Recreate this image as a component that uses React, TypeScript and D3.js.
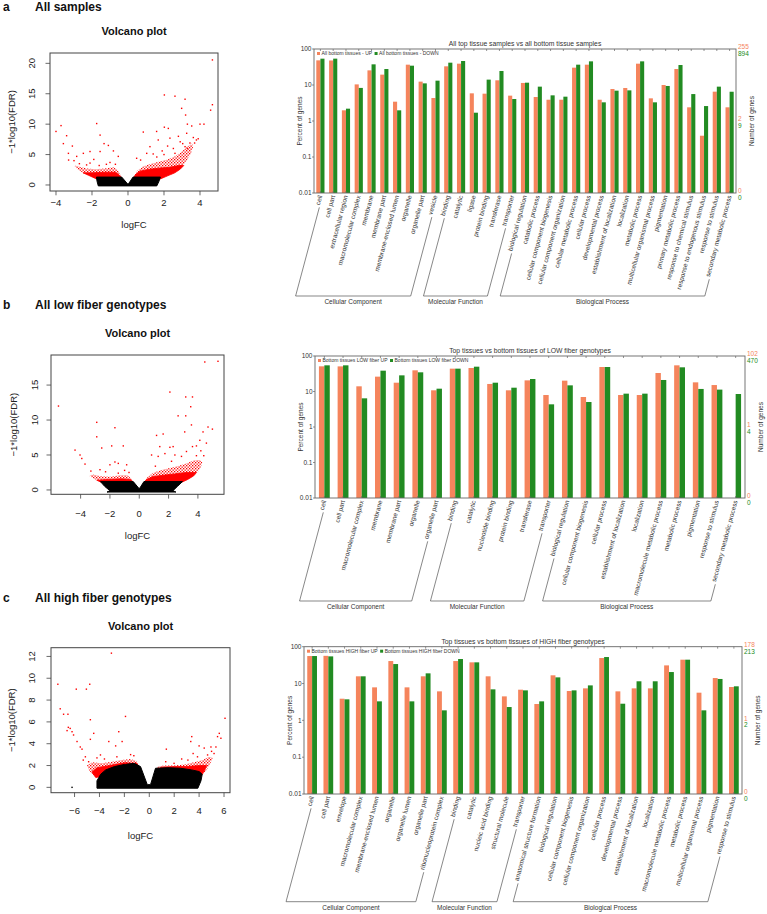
import React from "react";
import * as d3 from "d3";

const FONT = "'Liberation Sans', Arial, Helvetica, sans-serif";
const ORANGE = "#F5845C";
const GREEN = "#228B22";
const AXIS = "#666";
const TXT = "#333";

type P = [number, number];

// ---------------- bar chart data ----------------
const groupNames = ["Cellular Component", "Molecular Function", "Biological Process"];

const catsA = ["cell", "cell part", "extracellular region", "macromolecular complex", "membrane", "membrane part", "membrane-enclosed lumen", "organelle", "organelle part", "vesicle", "binding", "catalytic", "ligase", "protein binding", "transferase", "transporter", "biological regulation", "catabolic process", "cellular component biogenesis", "cellular component organization", "cellular metabolic process", "cellular process", "developmental process", "establishment of localization", "localization", "metabolic process", "multicellular organismal process", "pigmentation", "primary metabolic process", "response to chemical stimulus", "response to endogenous stimulus", "response to stimulus", "secondary metabolic process"];
const upA = [48.4, 48, 1.98, 10.4, 25.5, 19.4, 3.44, 36.7, 12.4, 4.35, 33, 39.1, 5.87, 5.74, 13.5, 5.06, 11.4, 4.64, 3.9, 3.9, 30.3, 36.7, 3.9, 7.74, 8.26, 39.1, 4.26, 10, 27.8, 2.4, 0.39, 6.53, 2.4];
const downA = [53.9, 54, 2.2, 8.3, 37.5, 27.8, 1.98, 34.4, 11.1, 13.2, 41.7, 46.4, 1.7, 14.1, 24.5, 4.08, 11.6, 9.0, 5.16, 4.74, 36.7, 45.4, 3.3, 6.96, 7.1, 45.4, 3.3, 9.4, 35.9, 5.6, 2.6, 9.0, 6.5];
const groupSizesA = [10, 6, 17];
const rightUpA = ["255", "2", "0"];
const rightDownA = ["894", "9", "0"];
const titleA = "All top tissue samples vs all bottom tissue samples";
const legendA = ["All bottom tissues - UP", "All bottom tissues - DOWN"];

const catsB = ["cell", "cell part", "macromolecular complex", "membrane", "membrane part", "organelle", "organelle part", "binding", "catalytic", "nucleotide binding", "protein binding", "transferase", "transporter", "biological regulation", "cellular component biogenesis", "cellular process", "establishment of localization", "localization", "macromolecule metabolic process", "metabolic process", "pigmentation", "response to stimulus", "secondary metabolic process"];
const upB = [51.2, 51, 14, 26.2, 17.7, 39.5, 10.8, 44, 45.9, 16.3, 10.8, 20.6, 7.96, 20.2, 7, 49, 7.96, 7.96, 33.2, 54.6, 18.1, 15.2, 0];
const downB = [54.6, 54.6, 6.42, 38.6, 28.5, 34.7, 12, 44, 50, 17.7, 12.8, 22.5, 4.35, 14.9, 5.06, 49, 8.7, 8.7, 21.1, 48, 11.8, 11.3, 8.5];
const groupSizesB = [7, 6, 10];
const rightUpB = ["102", "1", "0"];
const rightDownB = ["470", "4", "0"];
const titleB = "Top tissues vs bottom tissues of LOW fiber genotypes";
const legendB = ["Bottom tissues LOW fiber UP", "Bottom tissues LOW fiber DOWN"];

const catsC = ["cell", "cell part", "envelope", "macromolecular complex", "membrane-enclosed lumen", "organelle", "organelle lumen", "organelle part", "ribonucleoprotein complex", "binding", "catalytic", "nucleic acid binding", "structural molecule", "transporter", "anatomical structure formation", "biological regulation", "cellular component biogenesis", "cellular component organization", "cellular process", "developmental process", "establishment of localization", "localization", "macromolecule metabolic process", "metabolic process", "multicellular organismal process", "pigmentation", "response to stimulus"];
const upC = [55.8, 56.5, 3.87, 15.7, 7.87, 40.8, 7.87, 15.7, 6.13, 40.8, 37.6, 15.7, 4.48, 6.8, 2.78, 16.7, 6.26, 7.39, 49.2, 6.13, 7.39, 7.39, 31.1, 44.4, 5.64, 14.1, 8.04];
const downC = [55.8, 54.6, 3.72, 15.7, 3.28, 33.8, 3.28, 18.9, 1.87, 46.3, 37.6, 6.95, 2.3, 6.52, 3.28, 14.7, 6.52, 8.9, 52.4, 2.83, 11.5, 11.5, 20.5, 44.4, 1.87, 13.3, 8.4];
const groupSizesC = [9, 5, 13];
const rightUpC = ["178", "1", "0"];
const rightDownC = ["213", "2", "0"];
const titleC = "Top tissues vs bottom tissues of HIGH fiber genotypes";
const legendC = ["Bottom tissues HIGH fiber UP", "Bottom tissues HIGH fiber DOWN"];

const percentTicks = [100, 10, 1, 0.1, 0.01];
const percentTickLabels = ["100", "10", "1", "0.1", "0.01"];

// ---------------- volcano data ----------------
const blackCloudA: P[] = [[-1.65, -0.15], [1.6, -0.15], [1.72, 0.6], [1.8, 1.3], [0.28, 1.3], [0.03, 0.2], [-0.03, 0.2], [-0.35, 1.3], [-1.75, 1.3], [-1.72, 0.6]];
const redDenseA: P[][] = [
  [[0.3, 1.2], [1.8, 1.0], [2.2, 1.5], [2.6, 2.0], [2.9, 2.6], [3.1, 3.2], [2.8, 3.2], [2.3, 2.9], [1.8, 2.8], [1.2, 2.6], [0.7, 2.3], [0.45, 1.8]],
  [[-0.35, 1.2], [-1.75, 1.0], [-2.2, 1.6], [-2.5, 2.0], [-2.0, 2.0], [-1.3, 2.1], [-0.7, 2.1], [-0.5, 1.7]],
];
const redSparseA: P[][] = [
  [[0.3, 1.2], [1.8, 1.0], [2.1, 1.4], [2.5, 1.9], [2.8, 2.4], [3.07, 3.3], [3.3, 4.2], [3.5, 5.2], [3.62, 6.3], [3.55, 6.8], [3.3, 6.3], [3.0, 5.5], [2.6, 4.7], [2.2, 4.2], [1.7, 3.8], [1.2, 3.4], [0.8, 3.0], [0.5, 2.3]],
  [[-0.35, 1.2], [-1.75, 1.0], [-2.1, 1.5], [-2.5, 2.0], [-2.8, 2.6], [-3.0, 3.2], [-2.7, 3.0], [-2.3, 2.7], [-1.8, 2.6], [-1.3, 2.7], [-0.8, 2.9], [-0.55, 2.4]],
];
const redPtsA: P[] = [[4.69, 20.56], [2.02, 14.8], [2.61, 14.6], [3.17, 14.1], [2.98, 12.6], [4.59, 12.3], [4.69, 13.2], [3.2, 11.5], [3.3, 10.0], [3.54, 9.7], [4.0, 10.0], [4.22, 10.0], [-1.74, 10.1], [-3.72, 9.76], [-4.0, 8.8], [-3.41, 8.1], [-1.55, 8.2], [2.02, 9.5], [2.24, 9.3], [1.59, 8.8], [0.85, 8.7], [-3.59, 6.8], [-3.09, 6.4], [-1.33, 6.8], [-1.09, 6.5], [-2.11, 5.5], [-1.55, 5.5], [-0.54, 4.7], [-2.48, 5.2], [-3.31, 5.2], [-2.85, 4.7], [-2.11, 3.6], [-0.81, 5.6], [-1.0, 3.7], [1.68, 7.4], [2.33, 7.7], [2.8, 8.0], [3.04, 6.8], [3.44, 6.9], [3.63, 7.8], [3.26, 8.5], [1.22, 6.3], [2.52, 6.0], [3.17, 6.3], [0.48, 4.39], [1.04, 5.2], [2.61, 5.2], [3.8, 7.4], [3.7, 6.9], [3.9, 7.6], [2.9, 7.1], [2.2, 6.4], [1.9, 5.6], [1.4, 5.1], [0.7, 4.1], [3.3, 6.0], [2.0, 5.0], [1.6, 4.6], [-2.3, 3.3], [-1.6, 3.2], [-1.2, 3.4], [-2.7, 3.5], [-1.9, 4.2], [-0.7, 3.4], [-3.3, 4.1], [-3.0, 4.0]];
const blackPtsA: P[] = [];

const blackCloudB: P[] = [[-2.0, -0.1], [-2.2, -0.3], [2.5, -0.3], [2.3, -0.1], [2.6, 0.5], [2.95, 1.2], [0.32, 1.2], [0.03, 0.24], [-0.03, 0.24], [-0.41, 1.2], [-2.65, 1.2], [-2.35, 0.5]];
const redDenseB: P[][] = [
  [[0.32, 1.1], [2.9, 1.1], [3.3, 1.5], [3.7, 2.0], [3.9, 2.5], [3.2, 2.5], [2.4, 2.3], [1.6, 2.1], [0.9, 1.9], [0.5, 1.5]],
  [[-0.41, 1.1], [-2.6, 1.1], [-2.9, 1.4], [-2.2, 1.5], [-1.2, 1.6], [-0.6, 1.5]],
];
const redSparseB: P[][] = [
  [[0.32, 1.1], [2.9, 1.1], [3.3, 1.5], [3.7, 2.0], [4.0, 2.6], [4.2, 3.3], [4.3, 4.0], [4.1, 4.3], [3.7, 4.2], [3.2, 3.8], [2.6, 3.4], [2.0, 3.1], [1.4, 2.8], [0.9, 2.4], [0.55, 1.8]],
  [[-0.41, 1.1], [-2.6, 1.1], [-3.0, 1.5], [-3.4, 2.0], [-3.2, 2.2], [-2.6, 1.95], [-2.0, 1.9], [-1.3, 2.1], [-0.8, 2.1], [-0.55, 1.6]],
];
const redPtsB: P[] = [[4.47, 18.3], [5.37, 18.4], [-5.51, 12.0], [2.09, 14.0], [3.17, 13.3], [3.63, 13.3], [3.51, 11.9], [2.65, 10.6], [3.17, 10.6], [3.56, 9.3], [3.1, 8.3], [4.69, 9.0], [4.99, 8.7], [4.35, 8.3], [-2.9, 9.67], [-1.66, 8.9], [-2.9, 7.6], [-1.88, 6.3], [-2.56, 6.0], [-1.09, 6.3], [1.18, 7.8], [1.63, 8.0], [-4.38, 5.7], [-4.04, 5.0], [-3.92, 4.5], [-3.7, 3.7], [0.84, 5.0], [1.75, 5.2], [2.09, 6.1], [2.31, 6.2], [4.13, 7.1], [3.9, 6.3], [4.58, 6.7], [3.63, 6.2], [2.88, 4.8], [3.22, 5.5], [-1.66, 4.0], [-1.43, 3.8], [-2.0, 3.6], [-2.68, 2.9], [-1.43, 2.4], [-0.86, 3.6], [1.29, 4.8], [2.43, 5.0], [1.4, 6.2], [4.4, 4.9], [4.2, 5.6], [3.9, 4.9], [2.2, 4.1], [1.1, 3.4], [-3.3, 2.7], [-2.3, 2.6], [-1.0, 2.8], [-0.7, 2.5]];
const blackPtsB: P[] = [];

const blackCloudC: P[] = [[-4.2, -0.08], [3.9, -0.08], [4.15, 0.6], [4.25, 1.2], [4.0, 1.45], [3.4, 1.6], [2.5, 1.75], [1.5, 1.8], [0.5, 1.75], [0.1, 0.25], [-0.16, 0.25], [-0.7, 1.9], [-1.2, 2.2], [-2.0, 2.1], [-2.8, 1.9], [-3.5, 1.6], [-3.9, 1.2], [-4.2, 0.6]];
const redDenseC: P[][] = [
  [[-0.7, 1.7], [-4.3, 0.9], [-4.6, 1.4], [-4.2, 1.8], [-3.2, 2.0], [-2.0, 2.25], [-1.0, 2.2]],
  [[0.5, 1.6], [4.2, 1.1], [4.45, 1.6], [4.6, 2.0], [4.0, 2.0], [3.0, 1.9], [2.0, 1.9], [1.0, 1.85]],
];
const redSparseC: P[][] = [
  [[-0.7, 1.7], [-4.3, 0.9], [-4.8, 1.5], [-5.0, 2.0], [-4.6, 2.3], [-3.8, 2.2], [-3.0, 2.35], [-2.2, 2.5], [-1.5, 2.6], [-1.0, 2.4]],
  [[0.5, 1.6], [4.2, 1.1], [4.6, 1.6], [4.9, 2.2], [5.1, 2.7], [4.8, 2.8], [4.3, 2.5], [3.6, 2.3], [2.8, 2.1], [2.0, 2.0], [1.2, 2.0], [0.7, 1.9]],
];
const redPtsC: P[] = [[-3.04, 12.3], [-7.34, 9.45], [-5.86, 9.0], [-5.05, 9.0], [-4.78, 9.45], [-7.15, 7.2], [-6.88, 6.7], [-6.53, 6.7], [-4.73, 6.2], [-1.91, 6.5], [-6.5, 5.5], [-6.2, 5.1], [-6.6, 5.2], [-6.35, 5.4], [-6.08, 4.8], [-5.8, 4.2], [-5.54, 3.7], [-5.4, 3.5], [-4.46, 4.95], [-4.73, 4.4], [-2.45, 5.1], [-3.25, 4.2], [-2.7, 3.8], [-2.18, 4.2], [-3.92, 2.97], [-1.24, 2.9], [-1.9, 2.2], [-5.13, 2.8], [-4.87, 2.35], [6.08, 6.33], [5.62, 4.95], [5.48, 4.65], [5.75, 4.5], [3.41, 4.65], [3.33, 4.2], [4.0, 3.8], [4.41, 3.6], [4.95, 3.7], [5.35, 3.7], [3.52, 3.1], [1.99, 2.2], [1.37, 3.5], [1.32, 2.35], [3.87, 2.8], [4.68, 2.97], [5.2, 3.1], [5.0, 3.3], [-3.6, 2.6], [-2.6, 2.8], [-1.5, 3.0], [2.6, 2.6], [3.1, 2.5], [-5.3, 2.5], [-4.2, 2.7]];
const blackPtsC: P[] = [[-6.2, 0], [3.65, 0], [3.8, 0]];

// ---------------- helpers ----------------
let measureCtx: CanvasRenderingContext2D | null = null;
function textW(s: string, size: number): number {
  if (!measureCtx && typeof document !== "undefined") {
    const c = document.createElement("canvas");
    measureCtx = c.getContext("2d");
  }
  if (measureCtx) {
    measureCtx.font = `${size}px 'Liberation Sans', Arial`;
    return measureCtx.measureText(s).width;
  }
  return s.length * size * 0.5;
}

const ANG = (75 * Math.PI) / 180;
const UX = Math.cos(ANG);
const UY = Math.sin(ANG);

type BarProps = {
  cats: string[]; up: number[]; down: number[]; sizes: number[];
  rightUp: string[]; rightDown: string[]; title: string; legend: string[];
  x0: number; x1: number; y0: number; y1: number; baseY: number; barFrac: number;
};

function BarChart(p: BarProps) {
  const x = d3.scaleBand<string>().domain(p.cats).range([p.x0, p.x1]);
  const y = d3.scaleLog().domain([0.01, 100]).range([p.y1, p.y0]);
  const bw = x.step() * p.barFrac;
  const cx = (c: string) => (x(c) as number) + x.bandwidth() / 2;
  const LF = 6.5;
  const anchor = (c: string): P => [cx(c) + 2, p.y1 + 3];
  let start = 0;
  const groups = p.sizes.map((n, gi) => {
    const first = p.cats[start];
    const last = p.cats[start + n - 1];
    start += n;
    const ends = [first, last].map((c) => {
      const [ax, ay] = anchor(c);
      const L = textW(c, LF) + 2;
      const sx = ax - L * UX;
      const sy = ay + L * UY;
      const t = (p.baseY - ay) / UY;
      const bx = ax - t * UX;
      return { sx, sy, bx };
    });
    return { name: groupNames[gi], ends };
  });
  const mid = (p.y0 + p.y1) / 2;
  const rightYs = [p.y0, mid, p.y1];
  const legW0 = textW(p.legend[0], 5);
  return (
    <g fontFamily={FONT}>
      {p.cats.map((c, i) => (
        <g key={c}>
          {p.up[i] > 0 && (
            <rect x={cx(c) - bw} y={y(p.up[i])} width={bw} height={p.y1 - y(p.up[i])} fill={ORANGE} />
          )}
          {p.down[i] > 0 && (
            <rect x={cx(c)} y={y(p.down[i])} width={bw} height={p.y1 - y(p.down[i])} fill={GREEN} />
          )}
          <line x1={cx(c)} x2={cx(c)} y1={p.y0} y2={p.y0 + 2} stroke={AXIS} strokeWidth={0.7} />
          <line x1={cx(c)} x2={cx(c)} y1={p.y1} y2={p.y1 - 2} stroke={AXIS} strokeWidth={0.7} />
        </g>
      ))}
      <rect x={p.x0} y={p.y0} width={p.x1 - p.x0} height={p.y1 - p.y0} fill="none" stroke={AXIS} strokeWidth={0.9} />
      {percentTicks.map((t, i) => (
        <g key={t}>
          <line x1={p.x0 - 2} x2={p.x0} y1={y(t)} y2={y(t)} stroke={AXIS} strokeWidth={0.7} />
          <text x={p.x0 - 2.5} y={y(t) + 2.3} textAnchor="end" fontSize={6.5} fill={TXT}>{percentTickLabels[i]}</text>
        </g>
      ))}
      <text transform={`translate(${p.x0 - 12},${mid}) rotate(-90)`} textAnchor="middle" fontSize={6.5} fill={TXT}>Percent of genes</text>
      {rightYs.map((ry, i) => (
        <g key={i}>
          <text x={p.x1 + 2} y={ry + 0.3} fontSize={6.5} fill={ORANGE}>{p.rightUp[i]}</text>
          <text x={p.x1 + 2} y={ry + 6.8} fontSize={6.5} fill={GREEN}>{p.rightDown[i]}</text>
        </g>
      ))}
      <text transform={`translate(${p.x1 + 18},${mid}) rotate(-90)`} textAnchor="middle" fontSize={6.5} fill={TXT}>Number of genes</text>
      <text x={(p.x0 + p.x1) / 2} y={p.y0 - 3} textAnchor="middle" fontSize={6.8} fill={TXT}>{p.title}</text>
      <rect x={p.x0 + 3} y={p.y0 + 3} width={3} height={3} fill={ORANGE} />
      <text x={p.x0 + 7.5} y={p.y0 + 6.3} fontSize={5} fill={TXT}>{p.legend[0]}</text>
      <rect x={p.x0 + 7.5 + legW0 + 2.5} y={p.y0 + 3} width={3} height={3} fill={GREEN} />
      <text x={p.x0 + 7.5 + legW0 + 7} y={p.y0 + 6.3} fontSize={5} fill={TXT}>{p.legend[1]}</text>
      {p.cats.map((c) => {
        const [ax, ay] = anchor(c);
        return (
          <text key={c} transform={`translate(${ax},${ay}) rotate(-75)`} textAnchor="end" fontSize={LF} fill={TXT}>{c}</text>
        );
      })}
      {groups.map((g) => {
        const [a, b] = g.ends;
        const path = `M${a.sx},${a.sy}L${a.bx},${p.baseY}L${b.bx},${p.baseY}L${b.sx},${b.sy}`;
        return (
          <g key={g.name}>
            <path d={path} fill="none" stroke="#555" strokeWidth={0.7} />
            <text x={(a.bx + b.bx) / 2} y={p.baseY + 8} textAnchor="middle" fontSize={6.5} fill={TXT}>{g.name}</text>
          </g>
        );
      })}
    </g>
  );
}

type VProps = {
  id: string;
  x0: number; x1: number; y0: number; y1: number;
  xDom: P; yDom: P; xTicks: number[]; yTicks: number[];
  black: P[]; dense: P[][]; sparse: P[][]; redPts: P[]; blackPts: P[];
  xLabOff: number; yLabOff: number; yTitleX: number; xTitleY: number;
};

function Volcano(v: VProps) {
  const xs = d3.scaleLinear().domain(v.xDom).range([v.x0, v.x1]);
  const ys = d3.scaleLinear().domain(v.yDom).range([v.y1, v.y0]);
  const line = d3.line<P>().x((d) => xs(d[0])).y((d) => ys(d[1])).curve(d3.curveLinearClosed);
  const fmt = (t: number) => (t < 0 ? "\u2212" + Math.abs(t) : String(t));
  const ps = 1.4;
  return (
    <g fontFamily={FONT}>
      <defs>
        <clipPath id={v.id + "clip"}>
          <rect x={v.x0} y={v.y0} width={v.x1 - v.x0} height={v.y1 - v.y0} />
        </clipPath>
        <pattern id={v.id + "speck"} patternUnits="userSpaceOnUse" width={3} height={3}>
          <rect x={0} y={0} width={1.3} height={1.3} fill="#FF0000" />
          <rect x={1.5} y={1.5} width={1.3} height={1.3} fill="#FF0000" />
        </pattern>
      </defs>
      <g clipPath={`url(#${v.id}clip)`}>
        {v.sparse.map((r, i) => (
          <path key={"s" + i} d={line(r) || ""} fill={`url(#${v.id}speck)`} />
        ))}
        {v.dense.map((r, i) => (
          <path key={"d" + i} d={line(r) || ""} fill="#FF0000" stroke="#FF0000" strokeWidth={0.8} />
        ))}
        <path d={line(v.black) || ""} fill="#000" stroke="#000" strokeWidth={1} />
        {v.redPts.map((d, i) => (
          <rect key={"r" + i} x={xs(d[0]) - ps / 2} y={ys(d[1]) - ps / 2} width={ps} height={ps} fill="#FF0000" />
        ))}
        {v.blackPts.map((d, i) => (
          <rect key={"b" + i} x={xs(d[0]) - ps / 2} y={ys(d[1]) - ps / 2} width={ps} height={ps} fill="#000" />
        ))}
      </g>
      <rect x={v.x0} y={v.y0} width={v.x1 - v.x0} height={v.y1 - v.y0} fill="none" stroke="#444" strokeWidth={1} />
      {v.xTicks.map((t) => (
        <g key={"x" + t}>
          <line x1={xs(t)} x2={xs(t)} y1={v.y1} y2={v.y1 + 4.3} stroke="#444" strokeWidth={0.8} />
          <text x={xs(t)} y={v.y1 + v.xLabOff} textAnchor="middle" fontSize={9.5} fill="#222">{fmt(t)}</text>
        </g>
      ))}
      {v.yTicks.map((t) => (
        <g key={"y" + t}>
          <line x1={v.x0 - 4.5} x2={v.x0} y1={ys(t)} y2={ys(t)} stroke="#444" strokeWidth={0.8} />
          <text transform={`translate(${v.x0 - v.yLabOff},${ys(t)}) rotate(-90)`} textAnchor="middle" fontSize={9.5} fill="#222">{fmt(t)}</text>
        </g>
      ))}
      <text transform={`translate(${v.yTitleX},${(v.y0 + v.y1) / 2}) rotate(-90)`} textAnchor="middle" fontSize={9.5} fill="#222">{"\u22121*log10(FDR)"}</text>
      <text x={(v.x0 + v.x1) / 2} y={v.xTitleY} textAnchor="middle" fontSize={9.5} fill="#222">logFC</text>
      <text x={(v.x0 + v.x1) / 2} y={v.y0 - 18} textAnchor="middle" fontSize={11} fontWeight="bold" fill="#111">Volcano plot</text>
    </g>
  );
}

export default function App() {
  return (
    <svg width={767} height={914} style={{ position: "absolute", left: 0, top: 0, background: "#fff" }}>
      <rect x={0} y={0} width={767} height={914} fill="#fff" />
      <g fontFamily={FONT} fontWeight="bold" fontSize={12} fill="#111">
        <text x={3} y={11}>a</text>
        <text x={35} y={11}>All samples</text>
        <text x={3} y={309}>b</text>
        <text x={35} y={309}>All low fiber genotypes</text>
        <text x={3} y={602}>c</text>
        <text x={35} y={602}>All high fiber genotypes</text>
      </g>

      <Volcano id="va" x0={50} x1={218} y0={53} y1={191} xDom={[-4.333, 5.0]} yDom={[-0.99, 21.7]}
        xTicks={[-4, -2, 0, 2, 4]} yTicks={[0, 5, 10, 15, 20]}
        black={blackCloudA} dense={redDenseA} sparse={redSparseA} redPts={redPtsA} blackPts={blackPtsA}
        xLabOff={15} yLabOff={15} yTitleX={15} xTitleY={228.4} />
      <Volcano id="vb" x0={51} x1={224} y0={355} y1={494.3} xDom={[-6.02, 5.78]} yDom={[-0.62, 19.3]}
        xTicks={[-4, -2, 0, 2, 4]} yTicks={[0, 5, 10, 15]}
        black={blackCloudB} dense={redDenseB} sparse={redSparseB} redPts={redPtsB} blackPts={blackPtsB}
        xLabOff={22.7} yLabOff={13.1} yTitleX={16.7} xTitleY={539.4} />
      <Volcano id="vc" x0={51} x1={230} y0={647.7} y1={792.7} xDom={[-7.89, 6.48]} yDom={[-0.49, 12.8]}
        xTicks={[-6, -4, -2, 0, 2, 4, 6]} yTicks={[0, 2, 4, 6, 8, 10, 12]}
        black={blackCloudC} dense={redDenseC} sparse={redSparseC} redPts={redPtsC} blackPts={blackPtsC}
        xLabOff={21.6} yLabOff={15.9} yTitleX={15} xTitleY={839} />

      <BarChart cats={catsA} up={upA} down={downA} sizes={groupSizesA} rightUp={rightUpA} rightDown={rightDownA}
        title={titleA} legend={legendA} x0={314} x1={736} y0={49} y1={193} baseY={296} barFrac={0.32} />
      <BarChart cats={catsB} up={upB} down={downB} sizes={groupSizesB} rightUp={rightUpB} rightDown={rightDownB}
        title={titleB} legend={legendB} x0={315} x1={745} y0={356} y1={498} baseY={601} barFrac={0.29} />
      <BarChart cats={catsC} up={upC} down={downC} sizes={groupSizesC} rightUp={rightUpC} rightDown={rightDownC}
        title={titleC} legend={legendC} x0={304} x1={742} y0={646.7} y1={794} baseY={901.7} barFrac={0.3} />
    </svg>
  );
}
